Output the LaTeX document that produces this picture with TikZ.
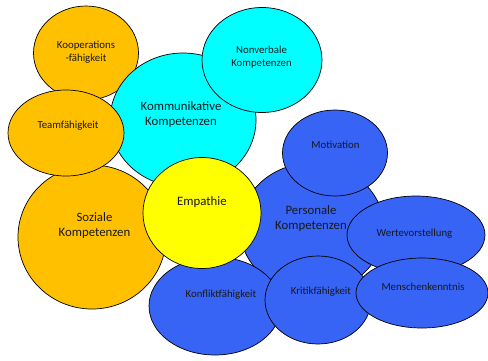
\documentclass[tikz,border=0pt]{standalone}
\usepackage{fontspec}
\setmainfont{Carlito}
\usetikzlibrary{shapes.geometric}
\definecolor{goldf}{RGB}{255,192,0}
\definecolor{cyanf}{RGB}{0,255,255}
\definecolor{yelf}{RGB}{255,255,0}
\definecolor{bluf}{RGB}{55,100,245}
\definecolor{txtc}{RGB}{25,25,25}
\begin{document}
\begin{tikzpicture}[x=1pt,y=-1pt,
 bub/.style={ellipse,draw=black,line width=0.7pt,inner sep=0pt},
 big/.style={font=\fontsize{12.8}{15}\selectfont,align=center,text=txtc,inner sep=0pt},
 small/.style={font=\fontsize{10.8}{13.5}\selectfont,align=center,text=txtc,inner sep=0pt}]
\useasboundingbox[fill=white] (0,0) rectangle (488,360);
% ellipses (drawing order = stacking order)
\node[bub,fill=goldf,minimum width=148pt,minimum height=144pt] (soz) at (92,237) {};
\node[bub,fill=goldf,minimum width=105pt,minimum height=94pt] (koop) at (86,53) {};
\node[bub,fill=cyanf,minimum width=146pt,minimum height=134pt] (komm) at (183,120) {};
\node[bub,fill=goldf,minimum width=116pt,minimum height=86pt] (team) at (66,133) {};
\node[bub,fill=cyanf,minimum width=120pt,minimum height=105pt] (nonv) at (262,60) {};
\node[bub,fill=bluf,minimum width=144pt,minimum height=130pt] (pers) at (312,228) {};
\node[bub,fill=bluf,minimum width=132pt,minimum height=98pt] (konf) at (215,306) {};
\node[bub,fill=yelf,minimum width=118pt,minimum height=111pt] (emp) at (202,213) {};
\node[bub,fill=bluf,minimum width=105pt,minimum height=86pt] (moti) at (335,153) {};
\node[bub,fill=bluf,minimum width=106pt,minimum height=88pt] (krit) at (318,300) {};
\node[bub,fill=bluf,minimum width=138pt,minimum height=78pt] (wert) at (416,235) {};
\node[bub,fill=bluf,minimum width=132pt,minimum height=70pt] (mens) at (422,293) {};
% labels
\node[small] (tkoop) at (86,52) {Kooperations\\-fähigkeit};
\node[big] (tkomm) at (181,115) {Kommunikative\\Kompetenzen};
\node[small] (tteam) at (68,126) {Teamfähigkeit};
\node[small] (tnonv) at (261.5,57) {Nonverbale\\Kompetenzen};
\node[small] (tmoti) at (335.5,145) {Motivation};
\node[big] (tsoz) at (94.5,226) {Soziale\\Kompetenzen};
\node[big] (temp) at (202,202) {Empathie};
\node[small] (tkonf) at (221,295) {Konfliktfähigkeit};
\node[big] (tpers) at (311,219) {Personale\\Kompetenzen};
\node[small] (twert) at (414.5,234) {Wertevorstellung};
\node[small] (tkrit) at (321,292) {Kritikfähigkeit};
\node[small] (tmens) at (423,287) {Menschenkenntnis};
\end{tikzpicture}
\end{document}
